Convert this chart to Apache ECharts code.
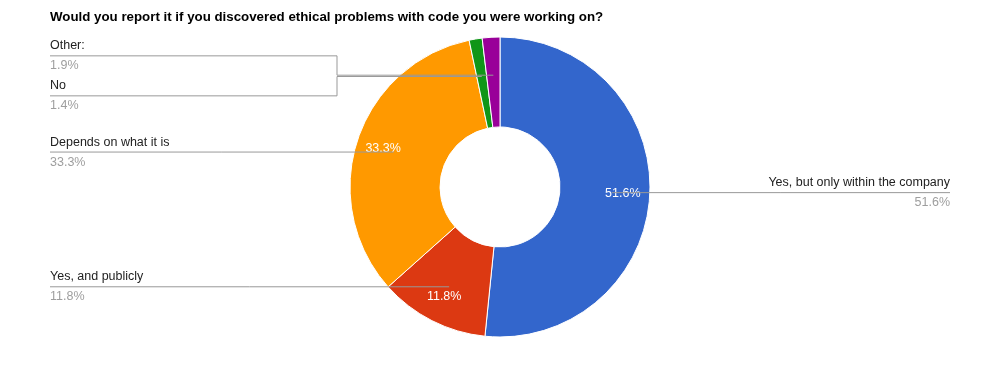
<!DOCTYPE html>
<html>
<head>
<meta charset="utf-8">
<script src="https://cdn.jsdelivr.net/npm/echarts@6/dist/echarts.min.js"></script>
<style>html,body{margin:0;padding:0;background:#fff;}#chart{width:1000px;height:375px;}</style>
</head>
<body>
<div id="chart"></div>
<script>
const titleText = 'Would you report it if you discovered ethical problems with code you were working on?';
const categories = ['Yes, but only within the company', 'Yes, and publicly', 'Depends on what it is', 'No', 'Other:'];
const values = [51.6, 11.8, 33.3, 1.4, 1.9];
const palette = ['#3366cc', '#dc3912', '#ff9900', '#109618', '#990099'];

const FONT = '"Liberation Sans", Arial, sans-serif';
const CENTER = [500, 187];
const ANCHOR_R = 112;
const JOG_X = 337;
const LINE_H = 20;
const LABEL_H = LINE_H * 2;

const data = categories.map((c, i) => ({ name: c, value: values[i] }));

// Compute label centre y per slice: anchor point at mid-angle, then
// spread overlapping labels on each side symmetrically around their anchors.
function computeLabelY() {
  const total = values.reduce((a, b) => a + b, 0);
  let acc = 0;
  const items = values.map((v, i) => {
    const mid = (acc + v / 2) / total * Math.PI * 2;
    acc += v;
    return {
      i: i,
      left: Math.sin(mid) < 0,
      y: CENTER[1] - ANCHOR_R * Math.cos(mid)
    };
  });
  const out = {};
  [true, false].forEach(side => {
    const list = items.filter(it => it.left === side).sort((a, b) => a.y - b.y);
    // cluster
    let clusters = list.map(it => ({ members: [it] }));
    let changed = true;
    while (changed) {
      changed = false;
      clusters.forEach(c => {
        const mean = c.members.reduce((s, m) => s + m.y, 0) / c.members.length;
        c.top = mean - (c.members.length * LABEL_H) / 2;
        c.bottom = c.top + c.members.length * LABEL_H;
      });
      for (let k = 0; k < clusters.length - 1; k++) {
        if (clusters[k].bottom > clusters[k + 1].top) {
          clusters[k].members = clusters[k].members.concat(clusters[k + 1].members);
          clusters.splice(k + 1, 1);
          changed = true;
          break;
        }
      }
    }
    clusters.forEach(c => {
      const mean = c.members.reduce((s, m) => s + m.y, 0) / c.members.length;
      const top = mean - (c.members.length * LABEL_H) / 2;
      c.members.forEach((m, j) => { out[m.i] = top + LABEL_H * j + LABEL_H / 2; });
    });
  });
  return out;
}
const labelY = computeLabelY();

const chart = echarts.init(document.getElementById('chart'), null, { renderer: 'canvas' });

const option = {
  animation: false,
  title: {
    text: titleText,
    left: 50,
    top: 11,
    padding: 0,
    textStyle: { fontFamily: FONT, fontSize: 13.3, fontWeight: 'bold', color: '#000' }
  },
  color: palette,
  series: [
    {
      type: 'pie',
      radius: [60, 150],
      center: CENTER,
      startAngle: 90,
      silent: true,
      itemStyle: { borderColor: '#fff', borderWidth: 1 },
      label: { show: false },
      labelLine: { show: false },
      data: data
    },
    {
      type: 'pie',
      radius: [90, 150],
      center: CENTER,
      startAngle: 90,
      silent: true,
      z: 3,
      minShowLabelAngle: 10,
      itemStyle: { color: 'rgba(0,0,0,0)', borderWidth: 0 },
      label: {
        show: true,
        position: 'inside',
        color: '#fff',
        fontFamily: FONT,
        fontSize: 12.5,
        formatter: p => p.value.toFixed(1) + '%'
      },
      labelLine: { show: false },
      data: data
    },
    {
      type: 'pie',
      radius: [0, ANCHOR_R],
      center: CENTER,
      startAngle: 90,
      silent: true,
      z: 4,
      itemStyle: { color: 'rgba(0,0,0,0)', borderWidth: 0 },
      avoidLabelOverlap: true,
      label: {
        show: true,
        position: 'outside',
        alignTo: 'edge',
        edgeDistance: 50,
        distanceToLabelLine: 0,
        fontFamily: FONT,
        formatter: p => '{n|' + p.name + '}\n{v|' + p.value.toFixed(1) + '%}',
        rich: {
          n: { fontFamily: FONT, fontSize: 12.5, color: '#222', lineHeight: LINE_H },
          v: { fontFamily: FONT, fontSize: 12.5, color: '#9e9e9e', lineHeight: LINE_H }
        }
      },
      labelLine: {
        show: true,
        length: 0,
        length2: 0,
        lineStyle: { color: '#999', width: 1 }
      },
      labelLayout: function (params) {
        const pts = params.labelLinePoints;
        if (!pts) return {};
        const r = params.labelRect;
        const isLeft = r.x < CENTER[0];
        const ly = labelY[params.dataIndex];
        const endX = isLeft ? r.x : r.x + r.width;
        const p0 = pts[0];
        let np;
        if (Math.abs(ly - p0[1]) < 1.5) {
          np = [[p0[0], p0[1]], [(p0[0] + endX) / 2, p0[1]], [endX, p0[1]]];
        } else {
          np = [[p0[0], p0[1]], [JOG_X, p0[1]], [JOG_X, ly], [endX, ly]];
        }
        return { y: ly, labelLinePoints: np };
      },
      data: data
    }
  ]
};
chart.setOption(option);
</script>
</body>
</html>
